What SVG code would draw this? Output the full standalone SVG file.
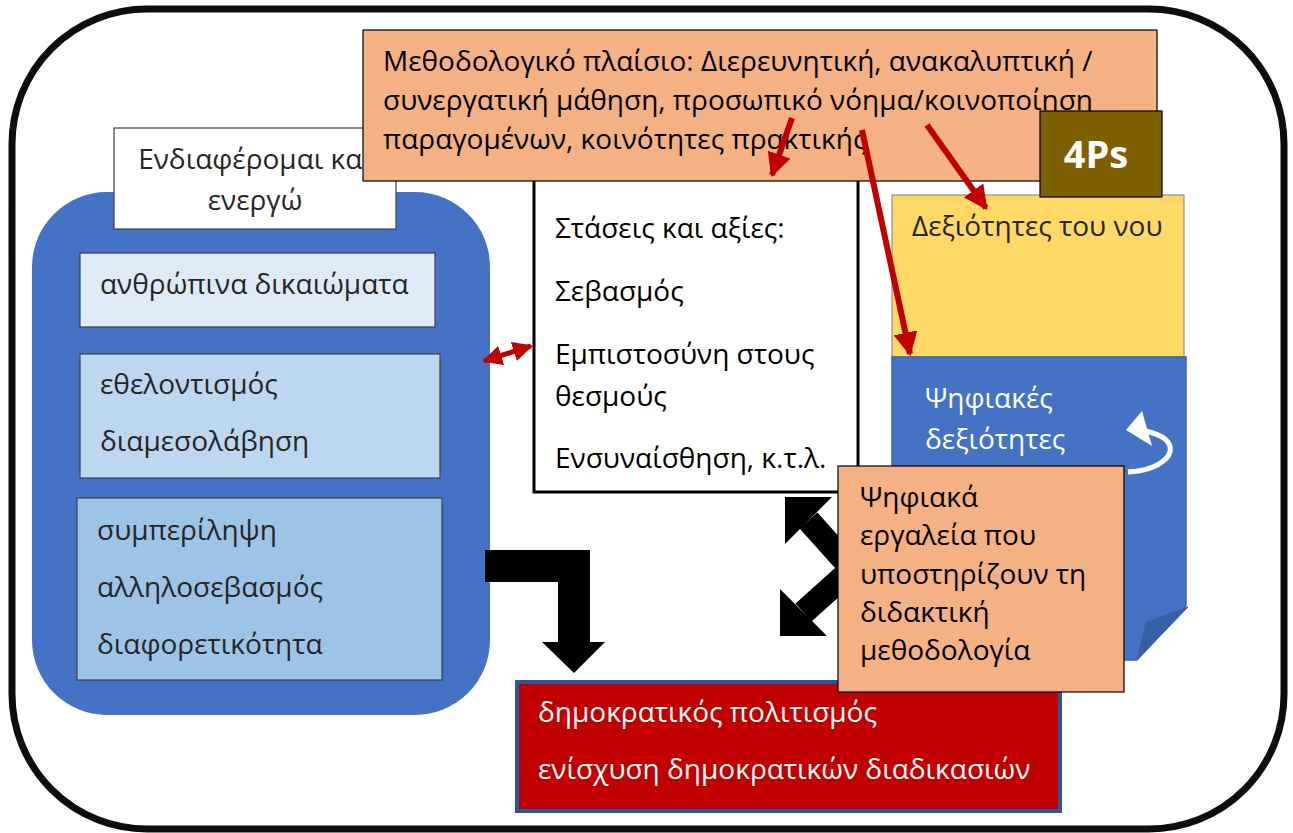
<svg xmlns="http://www.w3.org/2000/svg" width="1293" height="833" viewBox="0 0 1293 833">
  <style>
    text { font-family: "Open Sans", "Noto Sans", "DejaVu Sans", sans-serif; font-size: 28px; fill: #000; }
    .dark { fill: #262626; }
    .white { fill: #fff; }
    .box-thin { stroke: #404040; stroke-width: 1.2; }
    .red-line { stroke: #C00000; stroke-width: 6; fill: none; }
  </style>
  <defs>
    <marker id="redHead" viewBox="0 0 10 10" refX="9" refY="5" markerWidth="4" markerHeight="4" orient="auto-start-reverse" markerUnits="strokeWidth">
      <path d="M0,0 L10,5 L0,10 z" fill="#C00000"/>
    </marker>
  </defs>

  <!-- page frame -->
  <rect x="12" y="9" width="1272" height="820" rx="135" ry="135" fill="#fff" stroke="#0D0D0D" stroke-width="7"/>

  <!-- left container: values and actions -->
  <g id="civic-values">
    <rect x="32" y="192" width="458" height="523" rx="75" ry="75" fill="#4472C4"/>
    <rect x="80" y="253" width="355" height="74" fill="#DEEBF7" class="box-thin"/>
    <text x="100" y="294" class="dark">ανθρώπινα δικαιώματα</text>
    <rect x="80" y="354" width="360" height="124" fill="#BDD7EE" class="box-thin"/>
    <text x="100" y="394" class="dark">εθελοντισμός</text>
    <text x="100" y="451" class="dark">διαμεσολάβηση</text>
    <rect x="77" y="498" width="365" height="182" fill="#9DC3E6" class="box-thin"/>
    <text x="97" y="540" class="dark">συμπερίληψη</text>
    <text x="97" y="597" class="dark">αλληλοσεβασμός</text>
    <text x="97" y="654" class="dark">διαφορετικότητα</text>
  </g>

  <!-- heading label on the container -->
  <g id="care-and-act">
    <rect x="114" y="128" width="282" height="101" fill="#fff" class="box-thin"/>
    <text x="255" y="169" text-anchor="middle" class="dark">Ενδιαφέρομαι και</text>
    <text x="255" y="210" text-anchor="middle" class="dark">ενεργώ</text>
  </g>

  <!-- attitudes and values -->
  <g id="attitudes">
    <rect x="534" y="150" width="324" height="342" fill="#fff" stroke="#000" stroke-width="3"/>
    <text x="555" y="238">Στάσεις και αξίες:</text>
    <text x="555" y="301">Σεβασμός</text>
    <text x="555" y="364">Εμπιστοσύνη στους</text>
    <text x="555" y="406">θεσμούς</text>
    <text x="555" y="468">Ενσυναίσθηση, κ.τ.λ.</text>
  </g>

  <!-- skills of the mind -->
  <g id="mind-skills">
    <rect x="892" y="195" width="292" height="162" fill="#FFD966" stroke="#7F7F7F" stroke-width="1"/>
    <text x="912" y="236" class="dark">Δεξιότητες του νου</text>
  </g>

  <!-- digital skills, page with folded corner -->
  <g id="digital-skills">
    <path d="M892,357 H1186 V606 L1137,660 H892 Z" fill="#4472C4" stroke="#3B64AE" stroke-width="1.5"/>
    <path d="M1137,660 L1146,622 L1188,607 Z" fill="#3560A8" stroke="#3B64AE" stroke-width="1"/>
    <text x="925" y="408" class="white">Ψηφιακές</text>
    <text x="925" y="449" class="white">δεξιότητες</text>
    <path d="M1128,472 C1162,470 1180,452 1165,439 C1160,435 1154,433 1146,431" fill="none" stroke="#fff" stroke-width="5"/>
    <path d="M1126,430 L1142,411 L1152,446 Z" fill="#fff"/>
  </g>

  <!-- democratic culture -->
  <g id="democratic-culture">
    <rect x="517" y="682" width="543" height="129" fill="#C00000" stroke="#2F5597" stroke-width="4"/>
    <text x="538" y="722" class="white">δημοκρατικός πολιτισμός</text>
    <text x="538" y="779" class="white">ενίσχυση δημοκρατικών διαδικασιών</text>
  </g>

  <!-- connectors -->
  <g id="connectors">
    <!-- bent block arrow from the container down to democratic culture -->
    <path d="M485,550 H590 V642 H605 L574,673 L542,642 H558 V582 H485 Z" fill="#000"/>
    <!-- two-way angled block arrow -->
    <polyline points="808.5,520.5 852,569 803.5,612.5" fill="none" stroke="#000" stroke-width="24" stroke-linejoin="miter"/>
    <path d="M785,497 H832 L785,544 Z" fill="#000"/>
    <path d="M780,636 H827 L780,589 Z" fill="#000"/>
    <!-- container to attitudes -->
    <line x1="484" y1="361" x2="531" y2="346" stroke="#C00000" stroke-width="5" marker-start="url(#redHead)" marker-end="url(#redHead)"/>
  </g>

  <!-- methodological framework -->
  <g id="method-framework">
    <rect x="363" y="30" width="794" height="151" fill="#F4B183" stroke="#000" stroke-width="1.2"/>
    <text x="383" y="71">Μεθοδολογικό πλαίσιο: Διερευνητική, ανακαλυπτική /</text>
    <text x="383" y="110">συνεργατική μάθηση, προσωπικό νόημα/κοινοποίηση</text>
    <text x="383" y="149">παραγομένων, κοινότητες πρακτικής</text>
  </g>

  <!-- 4Ps badge -->
  <g id="four-ps">
    <rect x="1040" y="111" width="122" height="86" fill="#7F6000" stroke="#000" stroke-width="1.2"/>
    <text x="1096" y="168" text-anchor="middle" class="white" style="font-size:38px;font-weight:bold">4Ps</text>
  </g>

  <!-- framework arrows -->
  <g id="framework-arrows">
    <line x1="792" y1="118" x2="772" y2="175" class="red-line" marker-end="url(#redHead)"/>
    <line x1="927" y1="125" x2="986" y2="208" class="red-line" marker-end="url(#redHead)"/>
    <line x1="862" y1="130" x2="910" y2="354" class="red-line" marker-end="url(#redHead)"/>
  </g>

  <!-- digital tools -->
  <g id="digital-tools">
    <rect x="838" y="466" width="286" height="226" fill="#F4B183" stroke="#000" stroke-width="1.2"/>
    <text x="860" y="507">Ψηφιακά</text>
    <text x="860" y="545">εργαλεία που</text>
    <text x="860" y="584">υποστηρίζουν τη</text>
    <text x="860" y="622">διδακτική</text>
    <text x="860" y="660">μεθοδολογία</text>
  </g>
</svg>
